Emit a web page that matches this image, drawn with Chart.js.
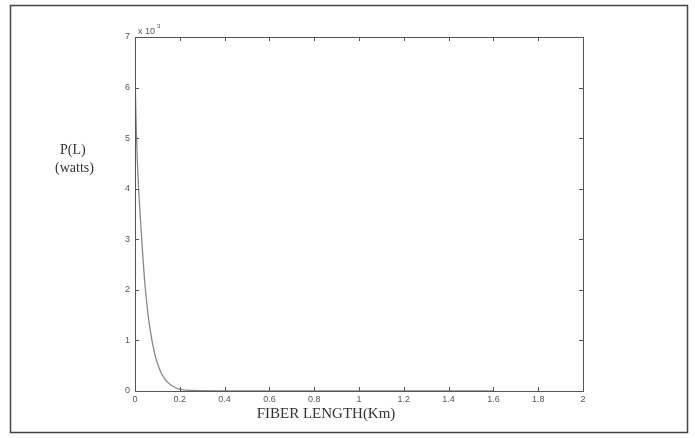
<!DOCTYPE html>
<html>
<head>
<meta charset="utf-8">
<script src="https://cdn.jsdelivr.net/npm/chart.js@4/dist/chart.umd.min.js"></script>
<style>
html,body{margin:0;padding:0;background:#fff;}
#wrap{width:695px;height:438px;}
</style>
</head>
<body>
<div id="wrap"><canvas id="c" width="695" height="438"></canvas></div>
<script>
const fiberLength = [0, 0.005, 0.01, 0.015, 0.02, 0.03, 0.04, 0.05, 0.06, 0.07, 0.08, 0.09, 0.10, 0.12, 0.14, 0.16, 0.18, 0.20, 0.25, 0.5, 1.0, 1.5, 1.6];
const power = [6.3, 5.3, 4.6, 4.1, 3.7, 3.0, 2.35, 1.85, 1.45, 1.15, 0.9, 0.7, 0.55, 0.33, 0.2, 0.12, 0.07, 0.03, 0.01, 0, 0, 0, 0];
const xTicks = [0, 0.2, 0.4, 0.6, 0.8, 1, 1.2, 1.4, 1.6, 1.8, 2];
const yTicks = [0, 1, 2, 3, 4, 5, 6, 7];
const xTickLabels = ['0', '0.2', '0.4', '0.6', '0.8', '1', '1.2', '1.4', '1.6', '1.8', '2'];
const yLabelLines = ['P(L)', '(watts)'];
const xTitle = 'FIBER LENGTH(Km)';

const frame = {
  id: 'frame',
  beforeDraw(chart) {
    const ctx = chart.ctx;
    ctx.save();
    ctx.fillStyle = '#fff';
    ctx.fillRect(0, 0, chart.width, chart.height);
    ctx.strokeStyle = '#444';
    ctx.lineWidth = 1.5;
    ctx.strokeRect(10.5, 5.5, 677, 427);
    ctx.restore();
  },
  afterDraw(chart) {
    const ctx = chart.ctx;
    const a = chart.chartArea;
    const xs = chart.scales.x, ys = chart.scales.y;
    ctx.save();
    ctx.strokeStyle = '#555';
    ctx.lineWidth = 1;
    ctx.strokeRect(Math.round(a.left) + 0.5, Math.round(a.top) + 0.5, Math.round(a.right - a.left), Math.round(a.bottom - a.top));
    ctx.beginPath();
    xTicks.forEach(v => {
      const px = Math.round(xs.getPixelForValue(v)) + 0.5;
      ctx.moveTo(px, a.bottom); ctx.lineTo(px, a.bottom - 4);
      ctx.moveTo(px, a.top); ctx.lineTo(px, a.top + 4);
    });
    yTicks.forEach(v => {
      const py = Math.round(ys.getPixelForValue(v)) + 0.5;
      ctx.moveTo(a.left, py); ctx.lineTo(a.left + 4, py);
      ctx.moveTo(a.right, py); ctx.lineTo(a.right - 4, py);
    });
    ctx.stroke();
    ctx.fillStyle = '#555';
    ctx.font = '9px "Liberation Sans", Arial, sans-serif';
    ctx.textAlign = 'left';
    ctx.textBaseline = 'alphabetic';
    ctx.fillText('x 10', a.left + 3, a.top - 3);
    ctx.font = '6px "Liberation Sans", Arial, sans-serif';
    ctx.fillText('3', a.left + 22, a.top - 9);
    ctx.fillStyle = '#333';
    ctx.font = '14px "Liberation Serif", "DejaVu Serif", serif';
    ctx.textAlign = 'left';
    ctx.fillText(yLabelLines[0], 60, 154);
    ctx.fillText(yLabelLines[1], 55, 172);
    ctx.textAlign = 'center';
    ctx.font = '15px "Liberation Serif", "DejaVu Serif", serif';
    ctx.fillText(xTitle, (a.left + a.right) / 2 - 33, 418);
    ctx.restore();
  }
};

new Chart(document.getElementById('c'), {
  type: 'line',
  data: {
    datasets: [{
      data: fiberLength.map((x, i) => ({x: x, y: power[i]})),
      borderColor: '#888',
      borderWidth: 1.3,
      pointRadius: 0,
      tension: 0.3,
      fill: false
    }]
  },
  options: {
    responsive: false,
    animation: false,
    events: [],
    layout: {padding: {left: 0, right: 112, top: 37, bottom: 0}},
    plugins: {legend: {display: false}, tooltip: {enabled: false}},
    scales: {
      x: {
        type: 'linear', min: 0, max: 2,
        afterFit(s) { s.height = 47; },
        afterBuildTicks(s) { s.ticks = xTicks.map(v => ({value: v})); },
        grid: {display: false, drawTicks: false},
        border: {display: false},
        ticks: {
          padding: 3,
          color: '#555',
          font: {size: 9, family: '"Liberation Sans", Arial, sans-serif'},
          maxRotation: 0,
          callback: (v, i) => xTickLabels[i]
        }
      },
      y: {
        type: 'linear', min: 0, max: 7,
        afterFit(s) { s.width = 135; },
        afterBuildTicks(s) { s.ticks = yTicks.map(v => ({value: v})); },
        grid: {display: false, drawTicks: false},
        border: {display: false},
        ticks: {
          padding: 5,
          color: '#555',
          font: {size: 9, family: '"Liberation Sans", Arial, sans-serif'}
        }
      }
    }
  },
  plugins: [frame]
});
</script>
</body>
</html>
